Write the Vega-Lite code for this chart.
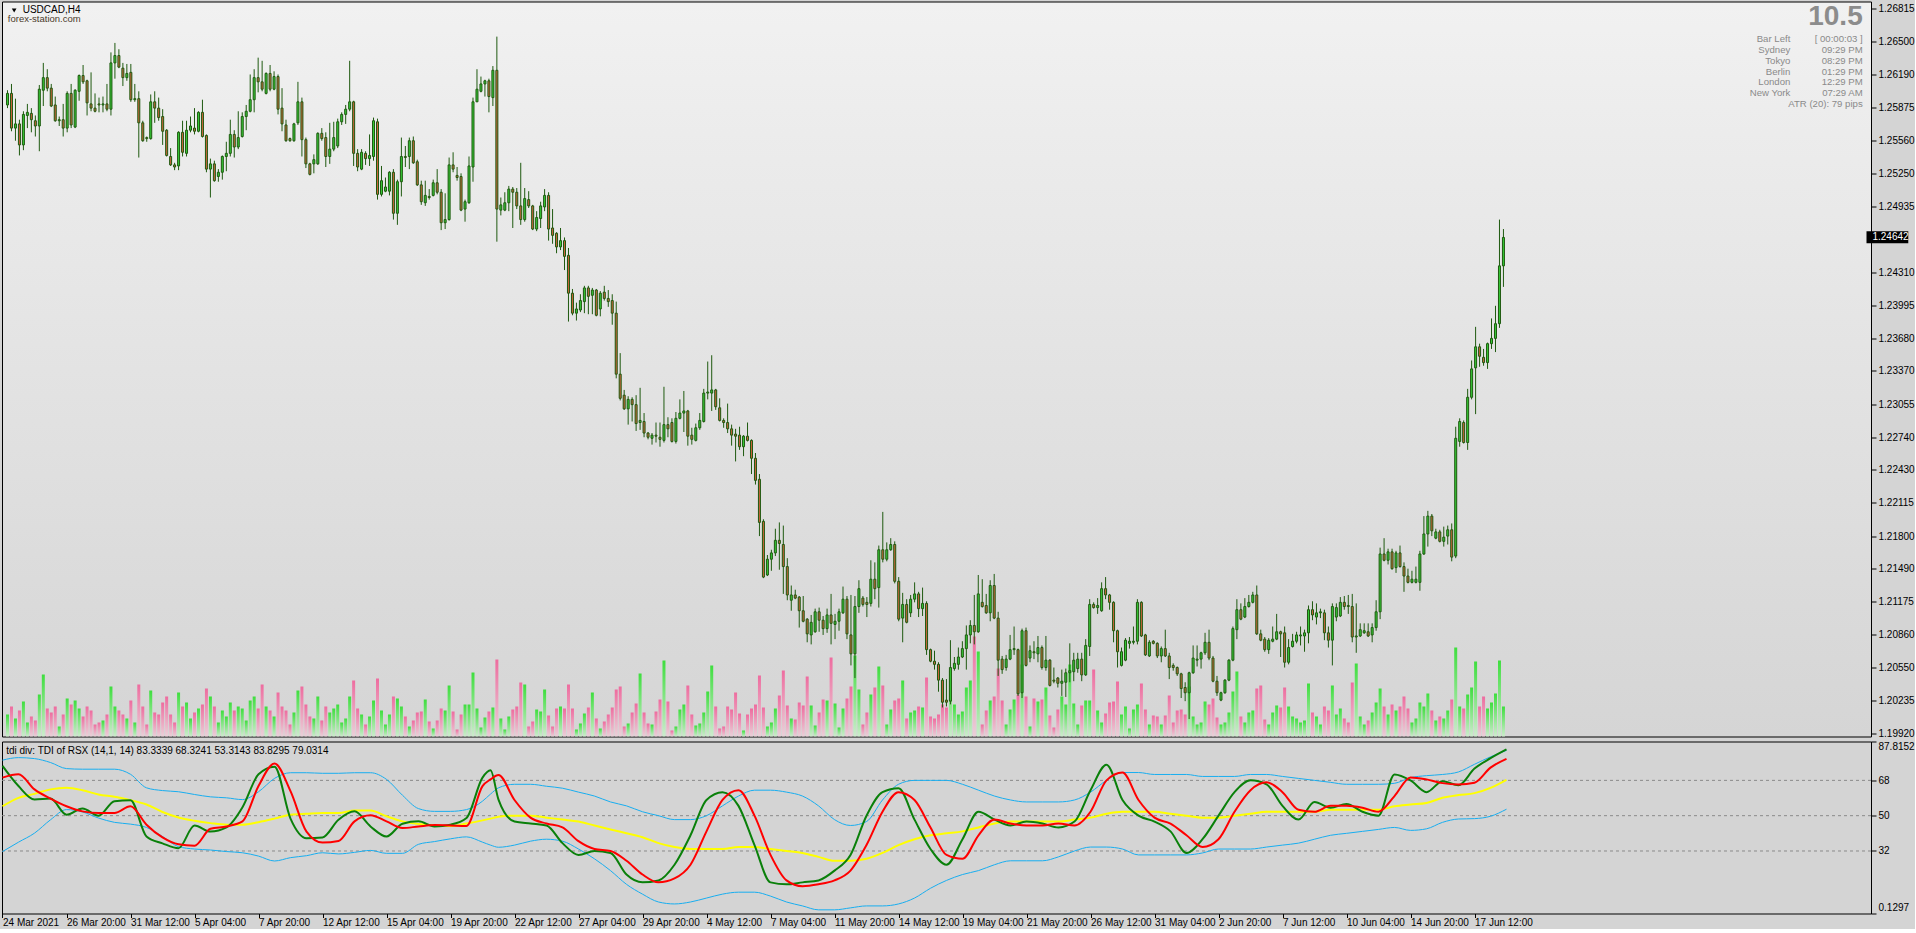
{
"$schema": "https://vega.github.io/schema/vega-lite/v6.json",
"background": "#d4d4d4",
"padding": {"left": -2, "top": 0.5, "right": 0, "bottom": 0},
"autosize": {"type": "pad"},
"spacing": 1,
"config": {
  "font": "Liberation Sans",
  "view": {"stroke": "#000000", "strokeWidth": 1}
},
"datasets": {
"bars": [
{"i":0,"o":1.2590,"h":1.2604,"l":1.2587,"c":1.2601,"v":22},
{"i":1,"o":1.2601,"h":1.2610,"l":1.2565,"c":1.2568,"v":30},
{"i":2,"o":1.2568,"h":1.2596,"l":1.2556,"c":1.2572,"v":18},
{"i":3,"o":1.2572,"h":1.2576,"l":1.2542,"c":1.2552,"v":26},
{"i":4,"o":1.2552,"h":1.2584,"l":1.2547,"c":1.2581,"v":35},
{"i":5,"o":1.2580,"h":1.2591,"l":1.2568,"c":1.2583,"v":14},
{"i":6,"o":1.2582,"h":1.2587,"l":1.2564,"c":1.2576,"v":20},
{"i":7,"o":1.2575,"h":1.2580,"l":1.2560,"c":1.2570,"v":16},
{"i":8,"o":1.2570,"h":1.2609,"l":1.2546,"c":1.2605,"v":42},
{"i":9,"o":1.2604,"h":1.2630,"l":1.2589,"c":1.2616,"v":62},
{"i":10,"o":1.2616,"h":1.2624,"l":1.2603,"c":1.2606,"v":28},
{"i":11,"o":1.2606,"h":1.2610,"l":1.2588,"c":1.2589,"v":24},
{"i":12,"o":1.2590,"h":1.2598,"l":1.2574,"c":1.2575,"v":30},
{"i":13,"o":1.2575,"h":1.2579,"l":1.2570,"c":1.2576,"v":10},
{"i":14,"o":1.2576,"h":1.2591,"l":1.2560,"c":1.2568,"v":22},
{"i":15,"o":1.2568,"h":1.2603,"l":1.2564,"c":1.2601,"v":38},
{"i":16,"o":1.2601,"h":1.2610,"l":1.2568,"c":1.2571,"v":32},
{"i":17,"o":1.2569,"h":1.2605,"l":1.2568,"c":1.2604,"v":36},
{"i":18,"o":1.2603,"h":1.2619,"l":1.2594,"c":1.2618,"v":28},
{"i":19,"o":1.2618,"h":1.2628,"l":1.2610,"c":1.2612,"v":20},
{"i":20,"o":1.2613,"h":1.2614,"l":1.2580,"c":1.2592,"v":30},
{"i":21,"o":1.2591,"h":1.2621,"l":1.2584,"c":1.2587,"v":26},
{"i":22,"o":1.2587,"h":1.2601,"l":1.2583,"c":1.2584,"v":12},
{"i":23,"o":1.2591,"h":1.2597,"l":1.2583,"c":1.2590,"v":14},
{"i":24,"o":1.2590,"h":1.2598,"l":1.2583,"c":1.2591,"v":16},
{"i":25,"o":1.2591,"h":1.2610,"l":1.2584,"c":1.2586,"v":22},
{"i":26,"o":1.2586,"h":1.2640,"l":1.2580,"c":1.2630,"v":50},
{"i":27,"o":1.2630,"h":1.2649,"l":1.2615,"c":1.2637,"v":30},
{"i":28,"o":1.2637,"h":1.2643,"l":1.2625,"c":1.2626,"v":26},
{"i":29,"o":1.2625,"h":1.2630,"l":1.2608,"c":1.2616,"v":22},
{"i":30,"o":1.2616,"h":1.2629,"l":1.2613,"c":1.2620,"v":18},
{"i":31,"o":1.2621,"h":1.2629,"l":1.2593,"c":1.2595,"v":36},
{"i":32,"o":1.2595,"h":1.2610,"l":1.2593,"c":1.2596,"v":14},
{"i":33,"o":1.2596,"h":1.2603,"l":1.2540,"c":1.2573,"v":52},
{"i":34,"o":1.2573,"h":1.2575,"l":1.2555,"c":1.2556,"v":30},
{"i":35,"o":1.2559,"h":1.2560,"l":1.2555,"c":1.2558,"v":12},
{"i":36,"o":1.2558,"h":1.2600,"l":1.2557,"c":1.2593,"v":46},
{"i":37,"o":1.2593,"h":1.2603,"l":1.2573,"c":1.2587,"v":24},
{"i":38,"o":1.2587,"h":1.2597,"l":1.2575,"c":1.2578,"v":22},
{"i":39,"o":1.2579,"h":1.2586,"l":1.2552,"c":1.2565,"v":34},
{"i":40,"o":1.2566,"h":1.2567,"l":1.2541,"c":1.2542,"v":40},
{"i":41,"o":1.2541,"h":1.2549,"l":1.2532,"c":1.2533,"v":22},
{"i":42,"o":1.2533,"h":1.2535,"l":1.2528,"c":1.2531,"v":14},
{"i":43,"o":1.2532,"h":1.2565,"l":1.2528,"c":1.2564,"v":44},
{"i":44,"o":1.2564,"h":1.2575,"l":1.2541,"c":1.2545,"v":30},
{"i":45,"o":1.2544,"h":1.2575,"l":1.2541,"c":1.2566,"v":34},
{"i":46,"o":1.2566,"h":1.2579,"l":1.2564,"c":1.2570,"v":18},
{"i":47,"o":1.2568,"h":1.2587,"l":1.2562,"c":1.2565,"v":24},
{"i":48,"o":1.2565,"h":1.2584,"l":1.2564,"c":1.2583,"v":28},
{"i":49,"o":1.2583,"h":1.2595,"l":1.2559,"c":1.2560,"v":32},
{"i":50,"o":1.2561,"h":1.2562,"l":1.2526,"c":1.2529,"v":48},
{"i":51,"o":1.2529,"h":1.2539,"l":1.2502,"c":1.2534,"v":40},
{"i":52,"o":1.2534,"h":1.2537,"l":1.2517,"c":1.2518,"v":30},
{"i":53,"o":1.2522,"h":1.2529,"l":1.2517,"c":1.2526,"v":14},
{"i":54,"o":1.2526,"h":1.2542,"l":1.2519,"c":1.2541,"v":26},
{"i":55,"o":1.2541,"h":1.2555,"l":1.2527,"c":1.2544,"v":20},
{"i":56,"o":1.2544,"h":1.2576,"l":1.2541,"c":1.2562,"v":34},
{"i":57,"o":1.2562,"h":1.2566,"l":1.2540,"c":1.2550,"v":26},
{"i":58,"o":1.2550,"h":1.2584,"l":1.2548,"c":1.2559,"v":30},
{"i":59,"o":1.2560,"h":1.2583,"l":1.2559,"c":1.2579,"v":28},
{"i":60,"o":1.2579,"h":1.2590,"l":1.2566,"c":1.2584,"v":16},
{"i":61,"o":1.2584,"h":1.2619,"l":1.2583,"c":1.2595,"v":36},
{"i":62,"o":1.2595,"h":1.2624,"l":1.2583,"c":1.2616,"v":40},
{"i":63,"o":1.2616,"h":1.2635,"l":1.2602,"c":1.2612,"v":28},
{"i":64,"o":1.2612,"h":1.2632,"l":1.2603,"c":1.2605,"v":52},
{"i":65,"o":1.2601,"h":1.2621,"l":1.2600,"c":1.2620,"v":30},
{"i":66,"o":1.2620,"h":1.2628,"l":1.2603,"c":1.2605,"v":26},
{"i":67,"o":1.2605,"h":1.2622,"l":1.2604,"c":1.2617,"v":20},
{"i":68,"o":1.2617,"h":1.2619,"l":1.2581,"c":1.2586,"v":44},
{"i":69,"o":1.2587,"h":1.2606,"l":1.2565,"c":1.2572,"v":30},
{"i":70,"o":1.2571,"h":1.2576,"l":1.2555,"c":1.2556,"v":26},
{"i":71,"o":1.2558,"h":1.2559,"l":1.2555,"c":1.2556,"v":12},
{"i":72,"o":1.2556,"h":1.2573,"l":1.2555,"c":1.2572,"v":24},
{"i":73,"o":1.2573,"h":1.2612,"l":1.2571,"c":1.2593,"v":46},
{"i":74,"o":1.2593,"h":1.2597,"l":1.2541,"c":1.2557,"v":50},
{"i":75,"o":1.2557,"h":1.2559,"l":1.2530,"c":1.2534,"v":32},
{"i":76,"o":1.2534,"h":1.2535,"l":1.2523,"c":1.2524,"v":20},
{"i":77,"o":1.2534,"h":1.2543,"l":1.2525,"c":1.2538,"v":18},
{"i":78,"o":1.2534,"h":1.2564,"l":1.2533,"c":1.2563,"v":40},
{"i":79,"o":1.2563,"h":1.2568,"l":1.2556,"c":1.2558,"v":16},
{"i":80,"o":1.2559,"h":1.2564,"l":1.2531,"c":1.2541,"v":30},
{"i":81,"o":1.2541,"h":1.2573,"l":1.2534,"c":1.2548,"v":24},
{"i":82,"o":1.2548,"h":1.2574,"l":1.2546,"c":1.2559,"v":28},
{"i":83,"o":1.2551,"h":1.2577,"l":1.2549,"c":1.2574,"v":32},
{"i":84,"o":1.2574,"h":1.2583,"l":1.2571,"c":1.2581,"v":14},
{"i":85,"o":1.2581,"h":1.2590,"l":1.2572,"c":1.2586,"v":18},
{"i":86,"o":1.2586,"h":1.2632,"l":1.2584,"c":1.2593,"v":40},
{"i":87,"o":1.2593,"h":1.2594,"l":1.2532,"c":1.2544,"v":56},
{"i":88,"o":1.2544,"h":1.2548,"l":1.2527,"c":1.2531,"v":28},
{"i":89,"o":1.2529,"h":1.2548,"l":1.2528,"c":1.2545,"v":22},
{"i":90,"o":1.2544,"h":1.2546,"l":1.2533,"c":1.2539,"v":12},
{"i":91,"o":1.2539,"h":1.2562,"l":1.2532,"c":1.2542,"v":20},
{"i":92,"o":1.2541,"h":1.2578,"l":1.2537,"c":1.2575,"v":36},
{"i":93,"o":1.2574,"h":1.2577,"l":1.2500,"c":1.2505,"v":58},
{"i":94,"o":1.2505,"h":1.2532,"l":1.2503,"c":1.2518,"v":26},
{"i":95,"o":1.2508,"h":1.2521,"l":1.2507,"c":1.2512,"v":12},
{"i":96,"o":1.2508,"h":1.2527,"l":1.2504,"c":1.2526,"v":22},
{"i":97,"o":1.2526,"h":1.2529,"l":1.2481,"c":1.2487,"v":40},
{"i":98,"o":1.2487,"h":1.2519,"l":1.2476,"c":1.2517,"v":38},
{"i":99,"o":1.2517,"h":1.2559,"l":1.2503,"c":1.2541,"v":30},
{"i":100,"o":1.2541,"h":1.2551,"l":1.2531,"c":1.2540,"v":20},
{"i":101,"o":1.2541,"h":1.2559,"l":1.2529,"c":1.2556,"v":10},
{"i":102,"o":1.2556,"h":1.2560,"l":1.2534,"c":1.2535,"v":16},
{"i":103,"o":1.2536,"h":1.2538,"l":1.2513,"c":1.2514,"v":24},
{"i":104,"o":1.2514,"h":1.2518,"l":1.2495,"c":1.2498,"v":25},
{"i":105,"o":1.2497,"h":1.2518,"l":1.2494,"c":1.2504,"v":37},
{"i":106,"o":1.2503,"h":1.2510,"l":1.2500,"c":1.2502,"v":15},
{"i":107,"o":1.2504,"h":1.2519,"l":1.2503,"c":1.2516,"v":8},
{"i":108,"o":1.2516,"h":1.2529,"l":1.2505,"c":1.2507,"v":16},
{"i":109,"o":1.2507,"h":1.2510,"l":1.2471,"c":1.2478,"v":28},
{"i":110,"o":1.2478,"h":1.2506,"l":1.2472,"c":1.2481,"v":26},
{"i":111,"o":1.2481,"h":1.2540,"l":1.2480,"c":1.2533,"v":51},
{"i":112,"o":1.2533,"h":1.2545,"l":1.2526,"c":1.2529,"v":25},
{"i":113,"o":1.2523,"h":1.2531,"l":1.2518,"c":1.2521,"v":7},
{"i":114,"o":1.2522,"h":1.2525,"l":1.2489,"c":1.2490,"v":22},
{"i":115,"o":1.2491,"h":1.2500,"l":1.2479,"c":1.2498,"v":32},
{"i":116,"o":1.2497,"h":1.2541,"l":1.2496,"c":1.2532,"v":32},
{"i":117,"o":1.2531,"h":1.2597,"l":1.2517,"c":1.2593,"v":64},
{"i":118,"o":1.2593,"h":1.2624,"l":1.2593,"c":1.2605,"v":28},
{"i":119,"o":1.2603,"h":1.2617,"l":1.2602,"c":1.2610,"v":9},
{"i":120,"o":1.2610,"h":1.2614,"l":1.2598,"c":1.2613,"v":19},
{"i":121,"o":1.2613,"h":1.2615,"l":1.2583,"c":1.2598,"v":25},
{"i":122,"o":1.2597,"h":1.2627,"l":1.2589,"c":1.2623,"v":29},
{"i":123,"o":1.2623,"h":1.2655,"l":1.2460,"c":1.2491,"v":77},
{"i":124,"o":1.2490,"h":1.2502,"l":1.2485,"c":1.2495,"v":18},
{"i":125,"o":1.2490,"h":1.2507,"l":1.2489,"c":1.2497,"v":7},
{"i":126,"o":1.2497,"h":1.2513,"l":1.2489,"c":1.2510,"v":20},
{"i":127,"o":1.2510,"h":1.2512,"l":1.2473,"c":1.2507,"v":27},
{"i":128,"o":1.2507,"h":1.2511,"l":1.2491,"c":1.2494,"v":30},
{"i":129,"o":1.2494,"h":1.2535,"l":1.2476,"c":1.2481,"v":54},
{"i":130,"o":1.2481,"h":1.2511,"l":1.2479,"c":1.2501,"v":52},
{"i":131,"o":1.2500,"h":1.2508,"l":1.2492,"c":1.2494,"v":10},
{"i":132,"o":1.2494,"h":1.2495,"l":1.2471,"c":1.2472,"v":15},
{"i":133,"o":1.2472,"h":1.2489,"l":1.2470,"c":1.2483,"v":27},
{"i":134,"o":1.2482,"h":1.2498,"l":1.2473,"c":1.2494,"v":25},
{"i":135,"o":1.2493,"h":1.2510,"l":1.2489,"c":1.2504,"v":47},
{"i":136,"o":1.2504,"h":1.2507,"l":1.2461,"c":1.2472,"v":21},
{"i":137,"o":1.2473,"h":1.2491,"l":1.2458,"c":1.2466,"v":10},
{"i":138,"o":1.2468,"h":1.2469,"l":1.2449,"c":1.2455,"v":28},
{"i":139,"o":1.2455,"h":1.2473,"l":1.2452,"c":1.2461,"v":30},
{"i":140,"o":1.2461,"h":1.2464,"l":1.2433,"c":1.2446,"v":28},
{"i":141,"o":1.2447,"h":1.2454,"l":1.2384,"c":1.2411,"v":52},
{"i":142,"o":1.2411,"h":1.2415,"l":1.2390,"c":1.2392,"v":28},
{"i":143,"o":1.2392,"h":1.2402,"l":1.2385,"c":1.2396,"v":7},
{"i":144,"o":1.2395,"h":1.2410,"l":1.2393,"c":1.2404,"v":13},
{"i":145,"o":1.2403,"h":1.2418,"l":1.2392,"c":1.2416,"v":23},
{"i":146,"o":1.2416,"h":1.2418,"l":1.2391,"c":1.2408,"v":29},
{"i":147,"o":1.2409,"h":1.2416,"l":1.2391,"c":1.2414,"v":44},
{"i":148,"o":1.2414,"h":1.2415,"l":1.2389,"c":1.2390,"v":18},
{"i":149,"o":1.2396,"h":1.2413,"l":1.2389,"c":1.2411,"v":8},
{"i":150,"o":1.2412,"h":1.2418,"l":1.2404,"c":1.2406,"v":15},
{"i":151,"o":1.2406,"h":1.2414,"l":1.2398,"c":1.2403,"v":22},
{"i":152,"o":1.2404,"h":1.2410,"l":1.2381,"c":1.2392,"v":29},
{"i":153,"o":1.2392,"h":1.2403,"l":1.2330,"c":1.2334,"v":47},
{"i":154,"o":1.2334,"h":1.2354,"l":1.2309,"c":1.2311,"v":50},
{"i":155,"o":1.2314,"h":1.2319,"l":1.2300,"c":1.2301,"v":10},
{"i":156,"o":1.2301,"h":1.2313,"l":1.2286,"c":1.2310,"v":13},
{"i":157,"o":1.2310,"h":1.2312,"l":1.2289,"c":1.2305,"v":24},
{"i":158,"o":1.2305,"h":1.2314,"l":1.2280,"c":1.2287,"v":33},
{"i":159,"o":1.2288,"h":1.2321,"l":1.2281,"c":1.2290,"v":63},
{"i":160,"o":1.2289,"h":1.2297,"l":1.2274,"c":1.2278,"v":24},
{"i":161,"o":1.2278,"h":1.2279,"l":1.2272,"c":1.2274,"v":13},
{"i":162,"o":1.2273,"h":1.2278,"l":1.2267,"c":1.2276,"v":12},
{"i":163,"o":1.2276,"h":1.2288,"l":1.2269,"c":1.2275,"v":25},
{"i":164,"o":1.2274,"h":1.2288,"l":1.2265,"c":1.2272,"v":37},
{"i":165,"o":1.2271,"h":1.2322,"l":1.2269,"c":1.2286,"v":76},
{"i":166,"o":1.2286,"h":1.2293,"l":1.2274,"c":1.2282,"v":35},
{"i":167,"o":1.2288,"h":1.2292,"l":1.2269,"c":1.2270,"v":6},
{"i":168,"o":1.2270,"h":1.2298,"l":1.2268,"c":1.2292,"v":10},
{"i":169,"o":1.2292,"h":1.2310,"l":1.2291,"c":1.2297,"v":27},
{"i":170,"o":1.2297,"h":1.2318,"l":1.2279,"c":1.2299,"v":32},
{"i":171,"o":1.2299,"h":1.2300,"l":1.2266,"c":1.2275,"v":51},
{"i":172,"o":1.2276,"h":1.2283,"l":1.2267,"c":1.2272,"v":22},
{"i":173,"o":1.2271,"h":1.2287,"l":1.2270,"c":1.2283,"v":11},
{"i":174,"o":1.2283,"h":1.2297,"l":1.2281,"c":1.2290,"v":13},
{"i":175,"o":1.2289,"h":1.2320,"l":1.2288,"c":1.2316,"v":24},
{"i":176,"o":1.2316,"h":1.2346,"l":1.2310,"c":1.2317,"v":45},
{"i":177,"o":1.2316,"h":1.2352,"l":1.2299,"c":1.2319,"v":71},
{"i":178,"o":1.2319,"h":1.2320,"l":1.2300,"c":1.2303,"v":30},
{"i":179,"o":1.2302,"h":1.2311,"l":1.2289,"c":1.2290,"v":8},
{"i":180,"o":1.2290,"h":1.2292,"l":1.2283,"c":1.2288,"v":10},
{"i":181,"o":1.2288,"h":1.2306,"l":1.2278,"c":1.2282,"v":30},
{"i":182,"o":1.2282,"h":1.2286,"l":1.2266,"c":1.2276,"v":27},
{"i":183,"o":1.2277,"h":1.2282,"l":1.2251,"c":1.2275,"v":44},
{"i":184,"o":1.2276,"h":1.2284,"l":1.2262,"c":1.2265,"v":23},
{"i":185,"o":1.2265,"h":1.2276,"l":1.2256,"c":1.2275,"v":6},
{"i":186,"o":1.2275,"h":1.2288,"l":1.2270,"c":1.2271,"v":22},
{"i":187,"o":1.2271,"h":1.2272,"l":1.2239,"c":1.2254,"v":28},
{"i":188,"o":1.2254,"h":1.2259,"l":1.2229,"c":1.2233,"v":32},
{"i":189,"o":1.2234,"h":1.2239,"l":1.2180,"c":1.2193,"v":61},
{"i":190,"o":1.2194,"h":1.2196,"l":1.2140,"c":1.2141,"v":29},
{"i":191,"o":1.2143,"h":1.2162,"l":1.2142,"c":1.2158,"v":10},
{"i":192,"o":1.2158,"h":1.2167,"l":1.2147,"c":1.2164,"v":14},
{"i":193,"o":1.2164,"h":1.2187,"l":1.2161,"c":1.2176,"v":28},
{"i":194,"o":1.2176,"h":1.2193,"l":1.2148,"c":1.2173,"v":41},
{"i":195,"o":1.2172,"h":1.2190,"l":1.2125,"c":1.2151,"v":66},
{"i":196,"o":1.2151,"h":1.2159,"l":1.2119,"c":1.2124,"v":31},
{"i":197,"o":1.2119,"h":1.2133,"l":1.2109,"c":1.2124,"v":18},
{"i":198,"o":1.2124,"h":1.2129,"l":1.2120,"c":1.2121,"v":17},
{"i":199,"o":1.2122,"h":1.2123,"l":1.2093,"c":1.2109,"v":34},
{"i":200,"o":1.2109,"h":1.2123,"l":1.2098,"c":1.2099,"v":31},
{"i":201,"o":1.2101,"h":1.2102,"l":1.2079,"c":1.2087,"v":60},
{"i":202,"o":1.2086,"h":1.2105,"l":1.2077,"c":1.2098,"v":31},
{"i":203,"o":1.2089,"h":1.2111,"l":1.2088,"c":1.2108,"v":11},
{"i":204,"o":1.2108,"h":1.2112,"l":1.2089,"c":1.2100,"v":24},
{"i":205,"o":1.2100,"h":1.2104,"l":1.2086,"c":1.2092,"v":37},
{"i":206,"o":1.2092,"h":1.2111,"l":1.2088,"c":1.2105,"v":36},
{"i":207,"o":1.2105,"h":1.2125,"l":1.2077,"c":1.2097,"v":79},
{"i":208,"o":1.2096,"h":1.2106,"l":1.2082,"c":1.2099,"v":33},
{"i":209,"o":1.2099,"h":1.2111,"l":1.2090,"c":1.2108,"v":9},
{"i":210,"o":1.2107,"h":1.2132,"l":1.2106,"c":1.2120,"v":28},
{"i":211,"o":1.2120,"h":1.2123,"l":1.2082,"c":1.2087,"v":38},
{"i":212,"o":1.2086,"h":1.2124,"l":1.2057,"c":1.2068,"v":50},
{"i":213,"o":1.2068,"h":1.2123,"l":1.2045,"c":1.2113,"v":81},
{"i":214,"o":1.2113,"h":1.2138,"l":1.2107,"c":1.2130,"v":47},
{"i":215,"o":1.2121,"h":1.2123,"l":1.2113,"c":1.2115,"v":12},
{"i":216,"o":1.2117,"h":1.2122,"l":1.2103,"c":1.2115,"v":24},
{"i":217,"o":1.2116,"h":1.2157,"l":1.2113,"c":1.2139,"v":42},
{"i":218,"o":1.2139,"h":1.2155,"l":1.2120,"c":1.2130,"v":49},
{"i":219,"o":1.2131,"h":1.2171,"l":1.2112,"c":1.2167,"v":70},
{"i":220,"o":1.2167,"h":1.2203,"l":1.2155,"c":1.2158,"v":51},
{"i":221,"o":1.2158,"h":1.2174,"l":1.2156,"c":1.2167,"v":12},
{"i":222,"o":1.2167,"h":1.2178,"l":1.2166,"c":1.2172,"v":27},
{"i":223,"o":1.2172,"h":1.2175,"l":1.2135,"c":1.2137,"v":36},
{"i":224,"o":1.2137,"h":1.2141,"l":1.2099,"c":1.2101,"v":38},
{"i":225,"o":1.2102,"h":1.2126,"l":1.2079,"c":1.2115,"v":56},
{"i":226,"o":1.2115,"h":1.2120,"l":1.2097,"c":1.2098,"v":18},
{"i":227,"o":1.2107,"h":1.2124,"l":1.2103,"c":1.2120,"v":24},
{"i":228,"o":1.2120,"h":1.2136,"l":1.2117,"c":1.2125,"v":26},
{"i":229,"o":1.2125,"h":1.2127,"l":1.2103,"c":1.2111,"v":30},
{"i":230,"o":1.2111,"h":1.2131,"l":1.2104,"c":1.2116,"v":29},
{"i":231,"o":1.2116,"h":1.2118,"l":1.2067,"c":1.2072,"v":59},
{"i":232,"o":1.2072,"h":1.2073,"l":1.2060,"c":1.2061,"v":20},
{"i":233,"o":1.2061,"h":1.2071,"l":1.2053,"c":1.2058,"v":18},
{"i":234,"o":1.2058,"h":1.2060,"l":1.2032,"c":1.2043,"v":22},
{"i":235,"o":1.2043,"h":1.2045,"l":1.2017,"c":1.2022,"v":32},
{"i":236,"o":1.2024,"h":1.2044,"l":1.2018,"c":1.2022,"v":29},
{"i":237,"o":1.2023,"h":1.2081,"l":1.2020,"c":1.2055,"v":66},
{"i":238,"o":1.2054,"h":1.2065,"l":1.2052,"c":1.2059,"v":32},
{"i":239,"o":1.2058,"h":1.2074,"l":1.2053,"c":1.2065,"v":22},
{"i":240,"o":1.2065,"h":1.2080,"l":1.2064,"c":1.2073,"v":25},
{"i":241,"o":1.2073,"h":1.2095,"l":1.2053,"c":1.2086,"v":49},
{"i":242,"o":1.2086,"h":1.2100,"l":1.2078,"c":1.2095,"v":56},
{"i":243,"o":1.2095,"h":1.2124,"l":1.2077,"c":1.2089,"v":100},
{"i":244,"o":1.2089,"h":1.2143,"l":1.2088,"c":1.2125,"v":85},
{"i":245,"o":1.2117,"h":1.2139,"l":1.2112,"c":1.2113,"v":12},
{"i":246,"o":1.2114,"h":1.2125,"l":1.2106,"c":1.2107,"v":26},
{"i":247,"o":1.2107,"h":1.2138,"l":1.2099,"c":1.2133,"v":36},
{"i":248,"o":1.2133,"h":1.2144,"l":1.2101,"c":1.2102,"v":40},
{"i":249,"o":1.2102,"h":1.2108,"l":1.2047,"c":1.2062,"v":68},
{"i":250,"o":1.2063,"h":1.2066,"l":1.2049,"c":1.2053,"v":36},
{"i":251,"o":1.2055,"h":1.2067,"l":1.2052,"c":1.2063,"v":12},
{"i":252,"o":1.2063,"h":1.2086,"l":1.2062,"c":1.2072,"v":27},
{"i":253,"o":1.2072,"h":1.2094,"l":1.2067,"c":1.2073,"v":37},
{"i":254,"o":1.2072,"h":1.2073,"l":1.2028,"c":1.2030,"v":42},
{"i":255,"o":1.2031,"h":1.2092,"l":1.2026,"c":1.2090,"v":72},
{"i":256,"o":1.2090,"h":1.2093,"l":1.2056,"c":1.2057,"v":40},
{"i":257,"o":1.2064,"h":1.2076,"l":1.2060,"c":1.2071,"v":10},
{"i":258,"o":1.2070,"h":1.2080,"l":1.2063,"c":1.2069,"v":38},
{"i":259,"o":1.2068,"h":1.2085,"l":1.2060,"c":1.2074,"v":35},
{"i":260,"o":1.2074,"h":1.2076,"l":1.2053,"c":1.2055,"v":37},
{"i":261,"o":1.2055,"h":1.2085,"l":1.2052,"c":1.2062,"v":49},
{"i":262,"o":1.2062,"h":1.2063,"l":1.2037,"c":1.2038,"v":21},
{"i":263,"o":1.2043,"h":1.2055,"l":1.2040,"c":1.2042,"v":9},
{"i":264,"o":1.2045,"h":1.2046,"l":1.2036,"c":1.2040,"v":27},
{"i":265,"o":1.2040,"h":1.2053,"l":1.2028,"c":1.2042,"v":40},
{"i":266,"o":1.2041,"h":1.2054,"l":1.2027,"c":1.2050,"v":32},
{"i":267,"o":1.2050,"h":1.2078,"l":1.2041,"c":1.2052,"v":72},
{"i":268,"o":1.2051,"h":1.2069,"l":1.2042,"c":1.2062,"v":33},
{"i":269,"o":1.2054,"h":1.2069,"l":1.2050,"c":1.2063,"v":12},
{"i":270,"o":1.2063,"h":1.2069,"l":1.2042,"c":1.2048,"v":31},
{"i":271,"o":1.2048,"h":1.2082,"l":1.2047,"c":1.2076,"v":36},
{"i":272,"o":1.2075,"h":1.2120,"l":1.2066,"c":1.2115,"v":36},
{"i":273,"o":1.2115,"h":1.2117,"l":1.2111,"c":1.2112,"v":67},
{"i":274,"o":1.2112,"h":1.2121,"l":1.2106,"c":1.2114,"v":26},
{"i":275,"o":1.2109,"h":1.2136,"l":1.2108,"c":1.2130,"v":14},
{"i":276,"o":1.2130,"h":1.2141,"l":1.2120,"c":1.2124,"v":23},
{"i":277,"o":1.2124,"h":1.2125,"l":1.2110,"c":1.2117,"v":34},
{"i":278,"o":1.2117,"h":1.2118,"l":1.2079,"c":1.2090,"v":35},
{"i":279,"o":1.2090,"h":1.2091,"l":1.2055,"c":1.2070,"v":55},
{"i":280,"o":1.2057,"h":1.2074,"l":1.2056,"c":1.2070,"v":22},
{"i":281,"o":1.2062,"h":1.2083,"l":1.2061,"c":1.2081,"v":30},
{"i":282,"o":1.2078,"h":1.2084,"l":1.2073,"c":1.2080,"v":8},
{"i":283,"o":1.2079,"h":1.2094,"l":1.2077,"c":1.2080,"v":27},
{"i":284,"o":1.2080,"h":1.2120,"l":1.2077,"c":1.2117,"v":32},
{"i":285,"o":1.2117,"h":1.2118,"l":1.2084,"c":1.2085,"v":53},
{"i":286,"o":1.2086,"h":1.2087,"l":1.2066,"c":1.2067,"v":27},
{"i":287,"o":1.2066,"h":1.2081,"l":1.2065,"c":1.2079,"v":12},
{"i":288,"o":1.2080,"h":1.2081,"l":1.2077,"c":1.2078,"v":21},
{"i":289,"o":1.2078,"h":1.2079,"l":1.2064,"c":1.2066,"v":20},
{"i":290,"o":1.2066,"h":1.2075,"l":1.2060,"c":1.2073,"v":12},
{"i":291,"o":1.2073,"h":1.2091,"l":1.2065,"c":1.2066,"v":21},
{"i":292,"o":1.2066,"h":1.2069,"l":1.2044,"c":1.2055,"v":41},
{"i":293,"o":1.2057,"h":1.2059,"l":1.2052,"c":1.2055,"v":14},
{"i":294,"o":1.2055,"h":1.2056,"l":1.2047,"c":1.2049,"v":26},
{"i":295,"o":1.2049,"h":1.2050,"l":1.2026,"c":1.2035,"v":27},
{"i":296,"o":1.2036,"h":1.2041,"l":1.2023,"c":1.2031,"v":22},
{"i":297,"o":1.2031,"h":1.2051,"l":1.2006,"c":1.2050,"v":50},
{"i":298,"o":1.2050,"h":1.2076,"l":1.2049,"c":1.2064,"v":20},
{"i":299,"o":1.2062,"h":1.2076,"l":1.2056,"c":1.2063,"v":12},
{"i":300,"o":1.2063,"h":1.2070,"l":1.2054,"c":1.2069,"v":14},
{"i":301,"o":1.2069,"h":1.2088,"l":1.2067,"c":1.2079,"v":35},
{"i":302,"o":1.2079,"h":1.2091,"l":1.2062,"c":1.2064,"v":32},
{"i":303,"o":1.2064,"h":1.2066,"l":1.2041,"c":1.2042,"v":38},
{"i":304,"o":1.2042,"h":1.2047,"l":1.2028,"c":1.2031,"v":19},
{"i":305,"o":1.2024,"h":1.2032,"l":1.2023,"c":1.2031,"v":12},
{"i":306,"o":1.2031,"h":1.2044,"l":1.2030,"c":1.2043,"v":14},
{"i":307,"o":1.2043,"h":1.2063,"l":1.2042,"c":1.2062,"v":24},
{"i":308,"o":1.2062,"h":1.2094,"l":1.2061,"c":1.2092,"v":45},
{"i":309,"o":1.2091,"h":1.2120,"l":1.2082,"c":1.2110,"v":65},
{"i":310,"o":1.2110,"h":1.2116,"l":1.2100,"c":1.2101,"v":20},
{"i":311,"o":1.2103,"h":1.2121,"l":1.2102,"c":1.2113,"v":14},
{"i":312,"o":1.2113,"h":1.2124,"l":1.2112,"c":1.2117,"v":24},
{"i":313,"o":1.2117,"h":1.2127,"l":1.2116,"c":1.2124,"v":26},
{"i":314,"o":1.2124,"h":1.2133,"l":1.2086,"c":1.2087,"v":48},
{"i":315,"o":1.2087,"h":1.2091,"l":1.2080,"c":1.2081,"v":51},
{"i":316,"o":1.2082,"h":1.2084,"l":1.2070,"c":1.2072,"v":17},
{"i":317,"o":1.2072,"h":1.2083,"l":1.2068,"c":1.2081,"v":12},
{"i":318,"o":1.2080,"h":1.2094,"l":1.2079,"c":1.2082,"v":24},
{"i":319,"o":1.2082,"h":1.2106,"l":1.2081,"c":1.2089,"v":31},
{"i":320,"o":1.2089,"h":1.2090,"l":1.2065,"c":1.2087,"v":29},
{"i":321,"o":1.2088,"h":1.2094,"l":1.2055,"c":1.2060,"v":49},
{"i":322,"o":1.2060,"h":1.2082,"l":1.2058,"c":1.2074,"v":30},
{"i":323,"o":1.2075,"h":1.2087,"l":1.2074,"c":1.2080,"v":20},
{"i":324,"o":1.2080,"h":1.2089,"l":1.2078,"c":1.2086,"v":18},
{"i":325,"o":1.2085,"h":1.2094,"l":1.2076,"c":1.2086,"v":14},
{"i":326,"o":1.2085,"h":1.2091,"l":1.2070,"c":1.2088,"v":16},
{"i":327,"o":1.2088,"h":1.2114,"l":1.2078,"c":1.2110,"v":53},
{"i":328,"o":1.2110,"h":1.2118,"l":1.2100,"c":1.2105,"v":24},
{"i":329,"o":1.2103,"h":1.2116,"l":1.2096,"c":1.2107,"v":20},
{"i":330,"o":1.2107,"h":1.2111,"l":1.2102,"c":1.2108,"v":12},
{"i":331,"o":1.2107,"h":1.2110,"l":1.2081,"c":1.2088,"v":30},
{"i":332,"o":1.2088,"h":1.2094,"l":1.2074,"c":1.2081,"v":26},
{"i":333,"o":1.2081,"h":1.2116,"l":1.2057,"c":1.2113,"v":51},
{"i":334,"o":1.2103,"h":1.2116,"l":1.2099,"c":1.2112,"v":22},
{"i":335,"o":1.2104,"h":1.2122,"l":1.2103,"c":1.2117,"v":28},
{"i":336,"o":1.2117,"h":1.2123,"l":1.2110,"c":1.2113,"v":18},
{"i":337,"o":1.2114,"h":1.2124,"l":1.2106,"c":1.2113,"v":14},
{"i":338,"o":1.2113,"h":1.2125,"l":1.2079,"c":1.2084,"v":54},
{"i":339,"o":1.2084,"h":1.2116,"l":1.2069,"c":1.2085,"v":73},
{"i":340,"o":1.2085,"h":1.2097,"l":1.2084,"c":1.2091,"v":20},
{"i":341,"o":1.2088,"h":1.2097,"l":1.2087,"c":1.2090,"v":12},
{"i":342,"o":1.2089,"h":1.2097,"l":1.2084,"c":1.2085,"v":16},
{"i":343,"o":1.2086,"h":1.2097,"l":1.2079,"c":1.2093,"v":24},
{"i":344,"o":1.2093,"h":1.2119,"l":1.2090,"c":1.2108,"v":34},
{"i":345,"o":1.2108,"h":1.2169,"l":1.2101,"c":1.2163,"v":48},
{"i":346,"o":1.2163,"h":1.2178,"l":1.2156,"c":1.2157,"v":30},
{"i":347,"o":1.2157,"h":1.2168,"l":1.2153,"c":1.2165,"v":22},
{"i":348,"o":1.2165,"h":1.2168,"l":1.2148,"c":1.2149,"v":32},
{"i":349,"o":1.2150,"h":1.2166,"l":1.2145,"c":1.2164,"v":26},
{"i":350,"o":1.2164,"h":1.2171,"l":1.2150,"c":1.2151,"v":30},
{"i":351,"o":1.2151,"h":1.2155,"l":1.2127,"c":1.2142,"v":40},
{"i":352,"o":1.2142,"h":1.2149,"l":1.2135,"c":1.2136,"v":28},
{"i":353,"o":1.2136,"h":1.2147,"l":1.2135,"c":1.2139,"v":14},
{"i":354,"o":1.2136,"h":1.2151,"l":1.2135,"c":1.2139,"v":18},
{"i":355,"o":1.2136,"h":1.2166,"l":1.2128,"c":1.2163,"v":34},
{"i":356,"o":1.2163,"h":1.2199,"l":1.2162,"c":1.2182,"v":30},
{"i":357,"o":1.2182,"h":1.2204,"l":1.2170,"c":1.2199,"v":43},
{"i":358,"o":1.2199,"h":1.2201,"l":1.2180,"c":1.2185,"v":26},
{"i":359,"o":1.2178,"h":1.2187,"l":1.2177,"c":1.2184,"v":16},
{"i":360,"o":1.2184,"h":1.2186,"l":1.2174,"c":1.2175,"v":20},
{"i":361,"o":1.2175,"h":1.2189,"l":1.2170,"c":1.2179,"v":18},
{"i":362,"o":1.2180,"h":1.2190,"l":1.2172,"c":1.2186,"v":26},
{"i":363,"o":1.2186,"h":1.2192,"l":1.2156,"c":1.2160,"v":37},
{"i":364,"o":1.2161,"h":1.2284,"l":1.2159,"c":1.2273,"v":89},
{"i":365,"o":1.2270,"h":1.2292,"l":1.2265,"c":1.2289,"v":30},
{"i":366,"o":1.2288,"h":1.2290,"l":1.2268,"c":1.2269,"v":28},
{"i":367,"o":1.2269,"h":1.2320,"l":1.2262,"c":1.2312,"v":42},
{"i":368,"o":1.2312,"h":1.2347,"l":1.2310,"c":1.2339,"v":49},
{"i":369,"o":1.2340,"h":1.2379,"l":1.2296,"c":1.2360,"v":75},
{"i":370,"o":1.2360,"h":1.2363,"l":1.2341,"c":1.2351,"v":30},
{"i":371,"o":1.2350,"h":1.2358,"l":1.2342,"c":1.2345,"v":40},
{"i":372,"o":1.2345,"h":1.2364,"l":1.2339,"c":1.2363,"v":28},
{"i":373,"o":1.2363,"h":1.2387,"l":1.2358,"c":1.2368,"v":34},
{"i":374,"o":1.2368,"h":1.2399,"l":1.2355,"c":1.2382,"v":43},
{"i":375,"o":1.2382,"h":1.2481,"l":1.2378,"c":1.2437,"v":76},
{"i":376,"o":1.2437,"h":1.2472,"l":1.2417,"c":1.2464,"v":30}
],
"tdi": [
{"i":0,"rsi":75.4,"sig":69.4,"base":54.8,"up":78.3,"lo":31.7},
{"i":4,"rsi":65.1,"sig":71.1,"base":59.1,"up":79.6,"lo":36.5},
{"i":8,"rsi":58.2,"sig":63.4,"base":61.1,"up":79.1,"lo":41.1},
{"i":12,"rsi":58.7,"sig":58.7,"base":63.4,"up":77.1,"lo":47.9},
{"i":16,"rsi":50.5,"sig":54.8,"base":64.2,"up":74.0,"lo":53.1},
{"i":20,"rsi":53.6,"sig":52.2,"base":63.0,"up":73.7,"lo":51.9},
{"i":24,"rsi":50.0,"sig":51.4,"base":60.8,"up":73.7,"lo":48.8},
{"i":28,"rsi":57.4,"sig":51.4,"base":59.6,"up":73.7,"lo":46.6},
{"i":32,"rsi":57.9,"sig":54.8,"base":57.9,"up":71.1,"lo":45.7},
{"i":36,"rsi":39.4,"sig":45.4,"base":55.7,"up":64.2,"lo":44.0},
{"i":40,"rsi":35.9,"sig":38.9,"base":51.9,"up":62.8,"lo":39.4},
{"i":44,"rsi":33.4,"sig":35.4,"base":49.1,"up":62.2,"lo":34.2},
{"i":48,"rsi":45.0,"sig":34.7,"base":47.4,"up":60.8,"lo":33.0},
{"i":52,"rsi":41.9,"sig":43.3,"base":46.2,"up":59.6,"lo":32.5},
{"i":56,"rsi":44.0,"sig":44.5,"base":45.4,"up":59.1,"lo":31.7},
{"i":60,"rsi":54.3,"sig":47.1,"base":45.4,"up":58.2,"lo":31.1},
{"i":64,"rsi":71.1,"sig":65.1,"base":46.7,"up":62.2,"lo":29.4},
{"i":68,"rsi":75.0,"sig":76.6,"base":48.5,"up":69.0,"lo":26.9},
{"i":72,"rsi":48.5,"sig":62.5,"base":50.5,"up":71.9,"lo":28.6},
{"i":76,"rsi":38.5,"sig":41.9,"base":51.0,"up":71.9,"lo":29.6},
{"i":80,"rsi":38.9,"sig":36.3,"base":51.4,"up":71.6,"lo":31.1},
{"i":84,"rsi":47.9,"sig":37.1,"base":51.4,"up":71.6,"lo":30.5},
{"i":88,"rsi":52.2,"sig":47.1,"base":52.7,"up":71.9,"lo":31.3},
{"i":92,"rsi":44.5,"sig":50.2,"base":52.6,"up":71.9,"lo":32.3},
{"i":96,"rsi":39.4,"sig":47.1,"base":49.7,"up":68.5,"lo":30.8},
{"i":100,"rsi":45.9,"sig":43.7,"base":47.1,"up":60.4,"lo":30.8},
{"i":104,"rsi":47.1,"sig":44.5,"base":45.7,"up":53.6,"lo":35.4},
{"i":108,"rsi":44.5,"sig":45.2,"base":45.0,"up":52.2,"lo":36.8},
{"i":112,"rsi":45.4,"sig":45.0,"base":44.7,"up":52.2,"lo":38.2},
{"i":116,"rsi":48.8,"sig":44.8,"base":46.0,"up":53.1,"lo":39.2},
{"i":120,"rsi":69.4,"sig":65.1,"base":47.6,"up":57.4,"lo":36.5},
{"i":122,"rsi":73.1,"sig":68.5,"base":48.5,"up":61.0,"lo":35.0},
{"i":124,"rsi":58.2,"sig":70.7,"base":49.5,"up":64.2,"lo":33.9},
{"i":128,"rsi":47.0,"sig":58.0,"base":50.0,"up":66.0,"lo":35.0},
{"i":132,"rsi":46.0,"sig":49.0,"base":50.0,"up":66.0,"lo":37.0},
{"i":136,"rsi":45.0,"sig":46.0,"base":49.0,"up":65.0,"lo":38.0},
{"i":140,"rsi":36.0,"sig":44.0,"base":48.0,"up":64.0,"lo":37.0},
{"i":144,"rsi":30.0,"sig":37.0,"base":47.0,"up":62.0,"lo":33.0},
{"i":148,"rsi":32.0,"sig":33.0,"base":45.0,"up":60.0,"lo":28.0},
{"i":152,"rsi":31.0,"sig":32.0,"base":43.0,"up":57.0,"lo":22.0},
{"i":156,"rsi":20.0,"sig":27.0,"base":41.0,"up":55.0,"lo":15.0},
{"i":160,"rsi":16.0,"sig":20.0,"base":39.0,"up":52.0,"lo":10.0},
{"i":164,"rsi":17.0,"sig":16.0,"base":36.0,"up":50.0,"lo":6.0},
{"i":168,"rsi":25.0,"sig":18.0,"base":34.0,"up":48.0,"lo":5.0},
{"i":172,"rsi":40.0,"sig":25.0,"base":33.0,"up":48.0,"lo":6.0},
{"i":176,"rsi":58.0,"sig":42.0,"base":33.0,"up":50.0,"lo":8.0},
{"i":180,"rsi":62.0,"sig":58.0,"base":33.0,"up":55.0,"lo":10.0},
{"i":184,"rsi":55.0,"sig":63.0,"base":34.0,"up":60.0,"lo":11.0},
{"i":188,"rsi":35.0,"sig":50.0,"base":34.0,"up":63.0,"lo":11.0},
{"i":192,"rsi":16.0,"sig":30.0,"base":33.0,"up":63.0,"lo":9.0},
{"i":196,"rsi":15.0,"sig":17.0,"base":32.0,"up":62.0,"lo":6.0},
{"i":200,"rsi":16.0,"sig":14.0,"base":31.0,"up":60.0,"lo":4.0},
{"i":204,"rsi":17.0,"sig":15.0,"base":29.0,"up":55.0,"lo":2.0},
{"i":208,"rsi":22.0,"sig":17.0,"base":27.0,"up":48.0,"lo":2.0},
{"i":212,"rsi":30.0,"sig":22.0,"base":27.0,"up":45.0,"lo":3.0},
{"i":216,"rsi":50.0,"sig":35.0,"base":28.0,"up":47.0,"lo":4.0},
{"i":220,"rsi":62.0,"sig":52.0,"base":31.0,"up":58.0,"lo":4.0},
{"i":224,"rsi":64.0,"sig":62.0,"base":35.0,"up":66.0,"lo":5.0},
{"i":228,"rsi":48.0,"sig":58.0,"base":38.0,"up":68.0,"lo":8.0},
{"i":232,"rsi":33.0,"sig":44.0,"base":40.0,"up":68.0,"lo":13.0},
{"i":236,"rsi":25.0,"sig":30.0,"base":41.0,"up":68.0,"lo":17.0},
{"i":240,"rsi":38.0,"sig":28.0,"base":42.0,"up":66.0,"lo":20.0},
{"i":244,"rsi":52.0,"sig":40.0,"base":44.0,"up":63.0,"lo":22.0},
{"i":248,"rsi":48.0,"sig":48.0,"base":46.0,"up":60.0,"lo":25.0},
{"i":252,"rsi":45.0,"sig":46.0,"base":47.0,"up":58.0,"lo":27.0},
{"i":256,"rsi":47.0,"sig":45.0,"base":47.0,"up":57.0,"lo":27.0},
{"i":260,"rsi":46.0,"sig":45.0,"base":47.0,"up":57.0,"lo":27.0},
{"i":264,"rsi":44.0,"sig":46.0,"base":47.0,"up":57.0,"lo":29.0},
{"i":268,"rsi":47.0,"sig":45.0,"base":48.0,"up":58.0,"lo":32.0},
{"i":272,"rsi":63.0,"sig":52.0,"base":49.0,"up":62.0,"lo":34.0},
{"i":276,"rsi":76.0,"sig":68.0,"base":51.0,"up":68.0,"lo":34.0},
{"i":280,"rsi":58.0,"sig":72.0,"base":52.0,"up":72.0,"lo":33.0},
{"i":284,"rsi":50.0,"sig":58.0,"base":52.0,"up":72.0,"lo":30.0},
{"i":288,"rsi":47.0,"sig":49.0,"base":52.0,"up":71.0,"lo":30.0},
{"i":292,"rsi":42.0,"sig":46.0,"base":51.0,"up":71.0,"lo":30.0},
{"i":296,"rsi":31.0,"sig":40.0,"base":50.0,"up":71.0,"lo":30.0},
{"i":300,"rsi":38.0,"sig":34.0,"base":49.0,"up":70.0,"lo":31.0},
{"i":304,"rsi":50.0,"sig":38.0,"base":49.0,"up":70.0,"lo":33.0},
{"i":308,"rsi":62.0,"sig":52.0,"base":50.0,"up":70.0,"lo":33.0},
{"i":312,"rsi":68.0,"sig":63.0,"base":51.0,"up":71.0,"lo":33.0},
{"i":316,"rsi":66.0,"sig":67.0,"base":52.0,"up":71.0,"lo":34.0},
{"i":320,"rsi":55.0,"sig":62.0,"base":52.0,"up":70.0,"lo":35.0},
{"i":324,"rsi":48.0,"sig":53.0,"base":52.0,"up":69.0,"lo":36.0},
{"i":328,"rsi":57.0,"sig":52.0,"base":52.0,"up":68.0,"lo":38.0},
{"i":332,"rsi":54.0,"sig":55.0,"base":53.0,"up":67.0,"lo":40.0},
{"i":336,"rsi":56.0,"sig":55.0,"base":53.0,"up":66.0,"lo":41.0},
{"i":340,"rsi":52.0,"sig":54.0,"base":53.0,"up":66.0,"lo":42.0},
{"i":344,"rsi":50.0,"sig":52.0,"base":53.0,"up":66.0,"lo":43.0},
{"i":348,"rsi":71.0,"sig":60.0,"base":54.8,"up":66.5,"lo":44.0},
{"i":352,"rsi":68.0,"sig":69.5,"base":55.7,"up":69.4,"lo":42.5},
{"i":356,"rsi":62.0,"sig":68.5,"base":56.5,"up":70.4,"lo":43.3},
{"i":360,"rsi":67.6,"sig":66.6,"base":59.1,"up":71.0,"lo":46.6},
{"i":364,"rsi":65.5,"sig":65.9,"base":60.5,"up":72.3,"lo":48.3},
{"i":368,"rsi":74.0,"sig":66.8,"base":61.5,"up":76.2,"lo":48.5},
{"i":372,"rsi":79.3,"sig":74.5,"base":64.2,"up":80.0,"lo":49.7},
{"i":376,"rsi":83.8,"sig":79.0,"base":68.3,"up":83.3,"lo":53.3}
]
},
"vconcat": [
{
  "width": 1869,
  "height": 735,
  "view": {"fill": {"gradient": "linear", "x1": 0, "y1": 0, "x2": 0, "y2": 1, "stops": [{"offset": 0, "color": "#f1f1f1"}, {"offset": 1, "color": "#d5d5d5"}]}, "stroke": "#000000"},
  "layer": [
    {
      "data": {"name": "bars"},
      "layer": [
        {
          "transform": [{"filter": "datum.c >= datum.o"}],
          "mark": {"type": "bar", "size": 3, "fill": {"gradient": "linear", "x1": 0, "y1": 0, "x2": 0, "y2": 1, "stops": [{"offset": 0, "color": "#3ede3e"}, {"offset": 1, "color": "#cdeccd"}]}},
          "encoding": {
            "x": {"field": "i", "type": "quantitative", "scale": {"domain": [-0.125, 467.125], "nice": false, "zero": false}, "axis": null},
            "y": {"field": "v", "type": "quantitative", "scale": {"domain": [0, 735], "nice": false}, "axis": null}
          }
        },
        {
          "transform": [{"filter": "datum.c < datum.o"}],
          "mark": {"type": "bar", "size": 3, "fill": {"gradient": "linear", "x1": 0, "y1": 0, "x2": 0, "y2": 1, "stops": [{"offset": 0, "color": "#ee6c9f"}, {"offset": 1, "color": "#ead0d8"}]}},
          "encoding": {
            "x": {"field": "i", "type": "quantitative", "scale": {"domain": [-0.125, 467.125], "nice": false, "zero": false}, "axis": null},
            "y": {"field": "v", "type": "quantitative", "scale": {"domain": [0, 735], "nice": false}, "axis": null}
          }
        }
      ]
    },
    {
      "layer": [
        {
          "data": {"name": "bars"},
          "mark": {"type": "rule", "color": "#1f5a10", "strokeWidth": 1},
          "encoding": {
            "x": {"field": "i", "type": "quantitative", "scale": {"domain": [-0.125, 467.125], "nice": false, "zero": false}, "axis": null},
            "y": {"field": "l", "type": "quantitative", "scale": {"domain": [1.19894, 1.26884], "nice": false, "zero": false},
                  "axis": {"orient": "right", "title": null, "values": [1.26815, 1.265, 1.2619, 1.25875, 1.2556, 1.2525, 1.24935, 1.2431, 1.23995, 1.2368, 1.2337, 1.23055, 1.2274, 1.2243, 1.22115, 1.218, 1.2149, 1.21175, 1.2086, 1.2055, 1.20235, 1.1992], "tickCount": 40, "format": ".5f", "tickSize": 5, "tickColor": "#000000", "labelColor": "#000000", "labelFont": "Liberation Sans", "labelFontSize": 10, "labelPadding": 2, "labelOverlap": false, "labelBound": false, "labelFlush": false, "domain": false, "grid": false}},
            "y2": {"field": "h"}
          }
        },
        {
          "data": {"name": "bars"},
          "mark": {"type": "bar", "size": 2, "stroke": "#1f5a10", "strokeWidth": 1},
          "encoding": {
            "x": {"field": "i", "type": "quantitative", "scale": {"domain": [-0.125, 467.125], "nice": false, "zero": false}, "axis": null},
            "y": {"field": "o", "type": "quantitative", "scale": {"domain": [1.19894, 1.26884], "nice": false, "zero": false}},
            "y2": {"field": "c"},
            "fill": {"condition": {"test": "datum.c >= datum.o", "value": "#36c936"}, "value": "#c9643a"}
          }
        },
        {
          "data": {"values": [{}]},
          "mark": {"type": "rect", "color": "#000000"},
          "encoding": {
            "x": {"datum": 467.25, "type": "quantitative", "scale": {"domain": [-0.125, 467.125], "nice": false, "zero": false}, "axis": null},
            "x2": {"datum": 477.75},
            "y": {"datum": 1.24700, "type": "quantitative", "scale": {"domain": [1.19894, 1.26884], "nice": false, "zero": false}},
            "y2": {"datum": 1.24584}
          }
        },
        {
          "data": {"values": [{}]},
          "mark": {"type": "text", "text": "1.24642", "color": "#ffffff", "align": "left", "baseline": "middle", "font": "Liberation Sans", "fontSize": 10},
          "encoding": {
            "x": {"datum": 468.75, "type": "quantitative", "scale": {"domain": [-0.125, 467.125], "nice": false, "zero": false}, "axis": null},
            "y": {"datum": 1.24642, "type": "quantitative", "scale": {"domain": [1.19894, 1.26884], "nice": false, "zero": false}}
          }
        },
        {
          "data": {"values": [{}]},
          "mark": {"type": "point", "shape": "triangle-down", "filled": true, "color": "#000000", "size": 22, "opacity": 1},
          "encoding": {
            "x": {"datum": 1.675, "type": "quantitative", "scale": {"domain": [-0.125, 467.125], "nice": false, "zero": false}, "axis": null},
            "y": {"datum": 1.26798, "type": "quantitative", "scale": {"domain": [1.19894, 1.26884], "nice": false, "zero": false}}
          }
        },
        {
          "data": {"values": [{}]},
          "mark": {"type": "text", "text": "USDCAD,H4", "color": "#000000", "align": "left", "baseline": "middle", "font": "Liberation Sans", "fontSize": 10},
          "encoding": {
            "x": {"datum": 3.825, "type": "quantitative", "scale": {"domain": [-0.125, 467.125], "nice": false, "zero": false}, "axis": null},
            "y": {"datum": 1.26803, "type": "quantitative", "scale": {"domain": [1.19894, 1.26884], "nice": false, "zero": false}}
          }
        },
        {
          "data": {"values": [{}]},
          "mark": {"type": "text", "text": "forex-station.com", "color": "#4a3a2a", "align": "left", "baseline": "middle", "font": "Liberation Sans", "fontSize": 9.5},
          "encoding": {
            "x": {"datum": 0.075, "type": "quantitative", "scale": {"domain": [-0.125, 467.125], "nice": false, "zero": false}, "axis": null},
            "y": {"datum": 1.26722, "type": "quantitative", "scale": {"domain": [1.19894, 1.26884], "nice": false, "zero": false}}
          }
        },
        {
          "data": {"values": [{}]},
          "mark": {"type": "text", "text": "10.5", "color": "#8c8c8c", "align": "right", "baseline": "middle", "font": "Liberation Sans", "fontSize": 28, "fontWeight": "bold"},
          "encoding": {
            "x": {"datum": 466.3, "type": "quantitative", "scale": {"domain": [-0.125, 467.125], "nice": false, "zero": false}, "axis": null},
            "y": {"datum": 1.26737, "type": "quantitative", "scale": {"domain": [1.19894, 1.26884], "nice": false, "zero": false}}
          }
        },
        {
          "data": {"values": [{}]},
          "mark": {"type": "text", "text": ["Bar Left", "Sydney", "Tokyo", "Berlin", "London", "New York"], "lineHeight": 10.8, "color": "#8a8a8a", "align": "right", "baseline": "top", "font": "Liberation Sans", "fontSize": 9.6},
          "encoding": {
            "x": {"datum": 448.1, "type": "quantitative", "scale": {"domain": [-0.125, 467.125], "nice": false, "zero": false}, "axis": null},
            "y": {"datum": 1.26573, "type": "quantitative", "scale": {"domain": [1.19894, 1.26884], "nice": false, "zero": false}}
          }
        },
        {
          "data": {"values": [{}]},
          "mark": {"type": "text", "text": ["[ 00:00:03 ]", "09:29 PM", "08:29 PM", "01:29 PM", "12:29 PM", "07:29 AM", "ATR (20): 79 pips"], "lineHeight": 10.8, "color": "#8a8a8a", "align": "right", "baseline": "top", "font": "Liberation Sans", "fontSize": 9.6},
          "encoding": {
            "x": {"datum": 466.3, "type": "quantitative", "scale": {"domain": [-0.125, 467.125], "nice": false, "zero": false}, "axis": null},
            "y": {"datum": 1.26573, "type": "quantitative", "scale": {"domain": [1.19894, 1.26884], "nice": false, "zero": false}}
          }
        }
      ]
    }
  ],
  "resolve": {"scale": {"y": "independent"}}
},
{
  "width": 1869,
  "height": 172,
  "view": {"fill": "#d4d4d4", "stroke": "#000000"},
  "layer": [
    {
      "data": {"values": [{"lv": 68}, {"lv": 50}, {"lv": 32}]},
      "mark": {"type": "rule", "color": "#8a8a8a", "strokeDash": [3, 3], "strokeWidth": 1},
      "encoding": {
        "y": {"field": "lv", "type": "quantitative", "scale": {"domain": [0.1297, 87.8152], "nice": false, "zero": false}}
      }
    },
    {
      "data": {"name": "tdi"},
      "mark": {"type": "line", "color": "#18aef0", "strokeWidth": 1, "interpolate": "monotone"},
      "encoding": {
        "x": {"field": "i", "type": "quantitative", "scale": {"domain": [-0.125, 467.125], "nice": false, "zero": false},
              "axis": {"orient": "bottom", "title": null, "values": [0,16,32,48,64,80,96,112,128,144,160,176,192,208,224,240,256,272,288,304,320,336,352,368], "tickCount": 60,
                       "labelExpr": "['24 Mar 2021','26 Mar 20:00','31 Mar 12:00','5 Apr 04:00','7 Apr 20:00','12 Apr 12:00','15 Apr 04:00','19 Apr 20:00','22 Apr 12:00','27 Apr 04:00','29 Apr 20:00','4 May 12:00','7 May 04:00','11 May 20:00','14 May 12:00','19 May 04:00','21 May 20:00','26 May 12:00','31 May 04:00','2 Jun 20:00','7 Jun 12:00','10 Jun 04:00','14 Jun 20:00','17 Jun 12:00'][round(datum.value/16)]",
                       "tickSize": 4, "tickColor": "#000000", "labelColor": "#000000", "labelFont": "Liberation Sans", "labelFontSize": 10, "labelAlign": "left", "labelBaseline": "top", "labelPadding": 0, "labelOverlap": false, "labelBound": false, "labelFlush": false, "domain": false, "grid": false}},
        "y": {"field": "up", "type": "quantitative", "scale": {"domain": [0.1297, 87.8152], "nice": false, "zero": false},
              "axis": {"orient": "right", "title": null, "values": [87.8152, 68, 50, 32, 0.1297], "tickCount": 10, "labelExpr": "format(datum.value, '.6~g')", "tickSize": 5, "tickColor": "#000000", "labelColor": "#000000", "labelFont": "Liberation Sans", "labelFontSize": 10, "labelPadding": 2, "labelOverlap": false, "labelBound": false, "labelFlush": false, "domain": false, "grid": false,
                       "labelBaseline": {"condition": {"test": "datum.value > 80", "value": "top"}, "value": "middle"},
                       "labelOffset": {"condition": {"test": "datum.value < 1", "value": -6}, "value": 0}}}
      }
    },
    {
      "data": {"name": "tdi"},
      "mark": {"type": "line", "color": "#18aef0", "strokeWidth": 1, "interpolate": "monotone"},
      "encoding": {
        "x": {"field": "i", "type": "quantitative", "scale": {"domain": [-0.125, 467.125], "nice": false, "zero": false}},
        "y": {"field": "lo", "type": "quantitative", "scale": {"domain": [0.1297, 87.8152], "nice": false, "zero": false}}
      }
    },
    {
      "data": {"name": "tdi"},
      "mark": {"type": "line", "color": "#ffff00", "strokeWidth": 2, "interpolate": "monotone"},
      "encoding": {
        "x": {"field": "i", "type": "quantitative", "scale": {"domain": [-0.125, 467.125], "nice": false, "zero": false}},
        "y": {"field": "base", "type": "quantitative", "scale": {"domain": [0.1297, 87.8152], "nice": false, "zero": false}}
      }
    },
    {
      "data": {"name": "tdi"},
      "mark": {"type": "line", "color": "#0a800a", "strokeWidth": 2, "interpolate": "monotone"},
      "encoding": {
        "x": {"field": "i", "type": "quantitative", "scale": {"domain": [-0.125, 467.125], "nice": false, "zero": false}},
        "y": {"field": "rsi", "type": "quantitative", "scale": {"domain": [0.1297, 87.8152], "nice": false, "zero": false}}
      }
    },
    {
      "data": {"name": "tdi"},
      "mark": {"type": "line", "color": "#ff0000", "strokeWidth": 2, "interpolate": "monotone"},
      "encoding": {
        "x": {"field": "i", "type": "quantitative", "scale": {"domain": [-0.125, 467.125], "nice": false, "zero": false}},
        "y": {"field": "sig", "type": "quantitative", "scale": {"domain": [0.1297, 87.8152], "nice": false, "zero": false}}
      }
    },
    {
      "data": {"values": [{}]},
      "mark": {"type": "text", "text": "tdi div: TDI of RSX  (14,1, 14) 83.3339 68.3241 53.3143 83.8295 79.0314", "color": "#000000", "align": "left", "baseline": "middle", "font": "Liberation Sans", "fontSize": 10},
      "encoding": {
        "x": {"datum": 0.925, "type": "quantitative", "scale": {"domain": [-0.125, 467.125], "nice": false, "zero": false}},
        "y": {"datum": 83.2, "type": "quantitative", "scale": {"domain": [0.1297, 87.8152], "nice": false, "zero": false}}
      }
    }
  ]
}
]
}
